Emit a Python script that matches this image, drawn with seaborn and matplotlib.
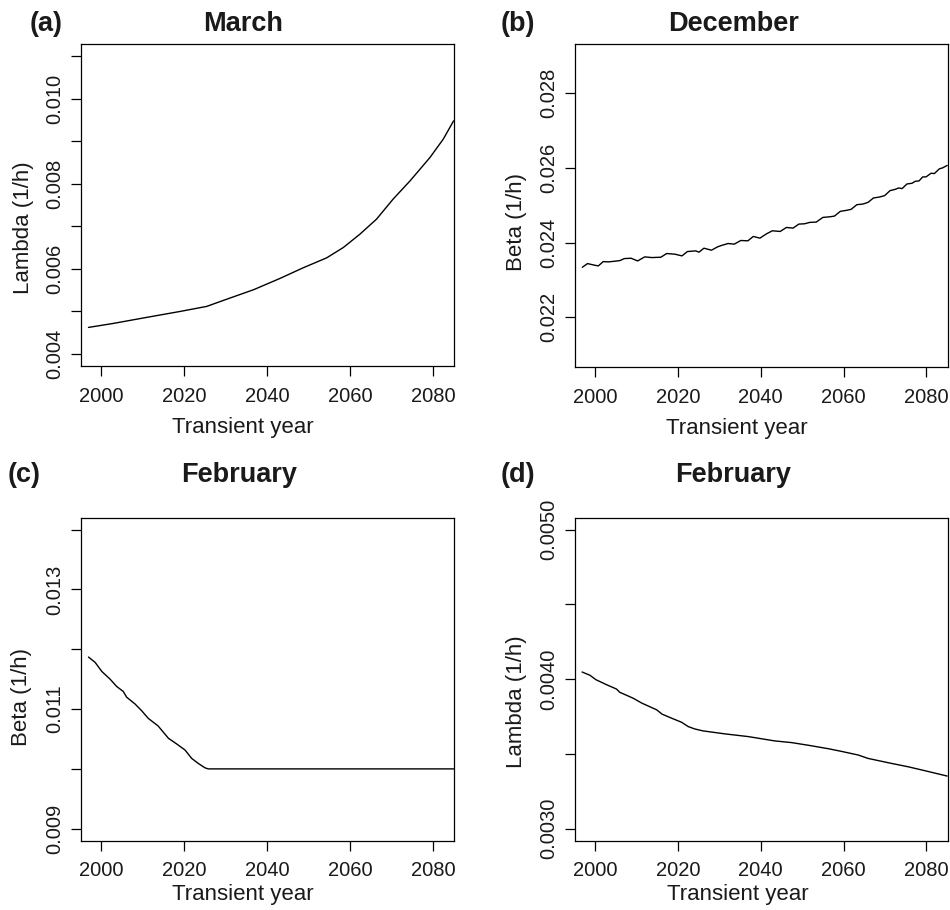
import numpy as np
import pandas as pd
import matplotlib
matplotlib.use("Agg")
import matplotlib.pyplot as plt
import seaborn as sns

# ---- data ----
# (a) March, Lambda
years_a = [1996.9, 2002.9, 2010.9, 2019.0, 2025.4, 2031.0, 2036.7, 2043.1, 2048.7,
           2054.4, 2058.4, 2062.4, 2066.4, 2070.4, 2074.5, 2079.3, 2082.5, 2085.0]
lambda_mar = [0.004626, 0.004720, 0.004861, 0.005001, 0.005119, 0.005314, 0.005510,
              0.005776, 0.006026, 0.006261, 0.006503, 0.006816, 0.007168, 0.007638,
              0.008068, 0.008616, 0.009046, 0.009476]

# (b) December, Beta (wiggly)
years_b = [1996.95, 1998.2, 1999.6, 2000.8, 2002.0, 2003.2, 2004.8, 2006.0, 2007.1,
           2008.7, 2010.3, 2012.0, 2013.7, 2015.9, 2017.3, 2019.3, 2021.0, 2022.3,
           2024.3, 2025.1, 2026.3, 2028.1, 2029.6, 2030.5, 2032.1, 2033.6, 2035.2,
           2036.9, 2038.2, 2039.8, 2041.4, 2042.8, 2044.7, 2046.2, 2047.8, 2049.2,
           2050.6, 2051.8, 2053.4, 2055.0, 2056.8, 2057.8, 2059.2, 2060.6, 2061.8,
           2063.2, 2064.7, 2065.9, 2067.2, 2068.7, 2069.9, 2071.2, 2072.5, 2073.3,
           2074.1, 2075.3, 2076.5, 2077.3, 2078.2, 2079.1, 2079.9, 2081.1, 2081.9,
           2083.1, 2083.9, 2085.0]
beta_dec = [0.023343, 0.023442, 0.023406, 0.023379, 0.023495, 0.023487, 0.023505,
            0.023522, 0.023576, 0.023585, 0.023513, 0.023621, 0.023603, 0.023612,
            0.023711, 0.023693, 0.023648, 0.023764, 0.023782, 0.023747, 0.023854,
            0.023800, 0.023890, 0.023926, 0.023979, 0.023962, 0.024060, 0.024051,
            0.024168, 0.024123, 0.024239, 0.024320, 0.024302, 0.024409, 0.024392,
            0.024499, 0.024508, 0.024544, 0.024553, 0.024678, 0.024696, 0.024714,
            0.024840, 0.024866, 0.024893, 0.025019, 0.025037, 0.025081, 0.025198,
            0.025225, 0.025261, 0.025395, 0.025431, 0.025467, 0.025449, 0.025574,
            0.025592, 0.025646, 0.025655, 0.025763, 0.025763, 0.025861, 0.025852,
            0.025978, 0.026005, 0.026070]

# (c) February, Beta
years_c = [1996.9, 1998.5, 2000.1, 2002.1, 2003.7, 2005.3, 2006.1, 2008.1, 2009.7,
           2011.3, 2013.7, 2016.2, 2018.2, 2020.2, 2021.8, 2023.4, 2025.0, 2025.8,
           2040.0, 2060.0, 2085.0]
beta_feb = [0.011870, 0.011781, 0.011630, 0.011501, 0.011378, 0.011294, 0.011199,
            0.011087, 0.010975, 0.010846, 0.010718, 0.010511, 0.010416, 0.010315,
            0.010175, 0.010091, 0.010018, 0.010000, 0.010000, 0.010000, 0.010000]

# (d) February, Lambda
years_d = [1996.9, 1998.8, 2000.2, 2002.8, 2005.2, 2006.0, 2009.2, 2011.3, 2014.9,
           2016.2, 2018.5, 2020.9, 2022.5, 2024.1, 2026.1, 2031.4, 2037.0, 2043.4,
           2047.4, 2051.5, 2056.3, 2059.5, 2063.5, 2065.9, 2071.5, 2075.6, 2079.6,
           2085.0]
lambda_feb = [0.004048, 0.004026, 0.003997, 0.003963, 0.003934, 0.003912, 0.003873,
              0.003840, 0.003795, 0.003766, 0.003739, 0.003712, 0.003683, 0.003667,
              0.003654, 0.003634, 0.003616, 0.003587, 0.003576, 0.003558, 0.003535,
              0.003517, 0.003493, 0.003470, 0.003437, 0.003414, 0.003388, 0.003352]

xticks = [2000, 2020, 2040, 2060, 2080]

sns.set_theme(style="ticks")
plt.rcParams['font.family'] = ['Liberation Sans', 'DejaVu Sans']

fig = plt.figure(figsize=(9.5, 9.1), dpi=100)

panels = [
    dict(tag="(a)", title="March", ylab="Lambda (1/h)", x=years_a, y=lambda_mar,
         pos=[0.0853, 0.5978, 0.3926, 0.3538], ylim=(0.00372, 0.01128),
         yt=[0.004, 0.005, 0.006, 0.007, 0.008, 0.009, 0.010, 0.011],
         ytl=["0.004", "", "0.006", "", "0.008", "", "0.010", ""],
         tagx=-0.094, tity=1.062, titx=0.434, xlx=0.434, xly=-0.19,
         ylx=-0.155, yly=0.429),
    dict(tag="(b)", title="December", ylab="Beta (1/h)", x=years_b, y=beta_dec,
         pos=[0.6049, 0.5970, 0.3926, 0.3546], ylim=(0.02068, 0.02932),
         yt=[0.022, 0.024, 0.026, 0.028],
         ytl=["0.022", "0.024", "0.026", "0.028"],
         tagx=-0.152, tity=1.062, titx=0.4265, xlx=0.435, xly=-0.19,
         ylx=-0.155, yly=0.449),
    dict(tag="(c)", title="February", ylab="Beta (1/h)", x=years_c, y=beta_feb,
         pos=[0.0853, 0.0762, 0.3926, 0.3549], ylim=(0.0088, 0.0142),
         yt=[0.009, 0.010, 0.011, 0.012, 0.013, 0.014],
         ytl=["0.009", "", "0.011", "", "0.013", ""],
         tagx=-0.153, tity=1.132, titx=0.424, xlx=0.434, xly=-0.168,
         ylx=-0.159, yly=0.446),
    dict(tag="(d)", title="February", ylab="Lambda (1/h)", x=years_d, y=lambda_feb,
         pos=[0.6049, 0.0762, 0.3926, 0.3549], ylim=(0.00292, 0.00508),
         yt=[0.0030, 0.0035, 0.0040, 0.0045, 0.0050],
         ytl=["0.0030", "", "0.0040", "", "0.0050"],
         tagx=-0.152, tity=1.132, titx=0.425, xlx=0.4365, xly=-0.168,
         ylx=-0.155, yly=0.430),
]

for p in panels:
    ax = fig.add_axes(p["pos"])
    df = pd.DataFrame({"year": p["x"], "val": p["y"]})
    sns.lineplot(data=df, x="year", y="val", ax=ax, color="black", linewidth=1.0)
    ax.set_xlim(1995.1, 2085.1)
    ax.set_ylim(*p["ylim"])
    ax.set_xticks(xticks)
    ax.set_xticklabels([str(t) for t in xticks])
    ax.set_yticks(p["yt"])
    ax.set_yticklabels(p["ytl"])
    ax.tick_params(axis="both", direction="out", length=7, width=0.9,
                   color="black", labelsize=14.5, labelcolor="#1a1a1a")
    ax.tick_params(axis="x", pad=8)
    ax.tick_params(axis="y", pad=5)
    for lab in ax.get_yticklabels():
        lab.set_rotation(90)
        lab.set_verticalalignment("center")
    for s in ax.spines.values():
        s.set_visible(True)
        s.set_linewidth(0.9)
        s.set_color("black")
    ax.set_xlabel("Transient year", fontsize=16, color="#1a1a1a")
    ax.set_ylabel(p["ylab"], fontsize=16, color="#1a1a1a")
    ax.xaxis.set_label_coords(p["xlx"], p["xly"])
    ax.xaxis.label.set_verticalalignment("center")
    ax.yaxis.set_label_coords(p["ylx"], p["yly"])
    ax.yaxis.label.set_verticalalignment("center")
    ax.text(p["titx"], p["tity"], p["title"], transform=ax.transAxes,
            ha="center", va="center", fontsize=19.5, fontweight="bold", color="#1a1a1a")
    ax.text(p["tagx"], p["tity"], p["tag"], transform=ax.transAxes,
            ha="center", va="center", fontsize=19.5, fontweight="bold", color="#1a1a1a")

fig.savefig("out.png", dpi=100)
